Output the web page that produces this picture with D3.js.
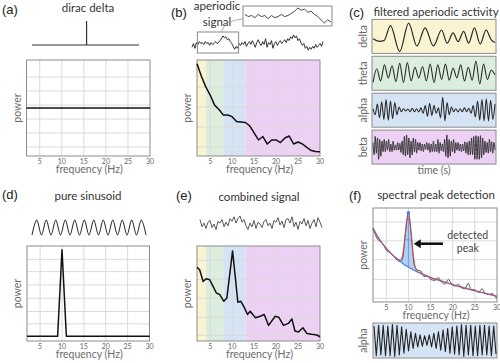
<!DOCTYPE html>
<html>
<head>
<meta charset="utf-8">
<script src="https://cdn.jsdelivr.net/npm/d3@7"></script>
<style>
  body { margin: 0; background: #fff; }
  svg { display: block; font-family: Lato, "Open Sans", sans-serif; }
  .frame { fill: none; stroke: #8c8c8c; stroke-width: 1; }
  .grid line { stroke: #dadada; stroke-width: 1; }
  .tick-label { font-size: 7px; fill: #666; }
  .axis-label { font-size: 10.5px; fill: #6a6a6a; }
  .title { font-size: 11.5px; fill: #333; }
  .panel { font-family: "Liberation Sans", Arial, sans-serif; font-size: 13px; fill: #222; }
</style>
</head>
<body>
<div id="chart"></div>
<script>
// ---- data ----
const freqTicks = [5, 10, 15, 20, 25, 30];
const bandEdges = [2, 4, 8, 13, 30];
const bandNames = ["delta", "theta", "alpha", "beta"];
const bandColors = ["#faf4d3", "#dbeedd", "#d5e4f4", "#edd1f4"];

// (a) dirac delta
const diracT = [0, 0.51, 0.51, 0.51, 1];
const diracV = [0, 0, 1, 0, 0];
const flatFreq = [2, 30];
const flatPower = [50, 50];

// (b) aperiodic signal (time trace) and its spectrum
const aperiodic = [
  -0.3, 0.1, -0.4, 0.2, 0.0, 0.3, 0.1, 0.2, 0.0, 0.3,
  0.1, 0.2, -0.1, 0.2, 0.0, 0.1, 0.3, 0.1, 0.2, 0.4,
  0.6, 0.9, 0.7, 0.8, 0.5, 0.6, 0.3, 0.1, -0.2, -0.5,
  -0.2, -0.4, 0.1, -0.1, 0.2, 0.0, 0.3, -0.2, 0.1, 0.3,
  0.0, 0.4, 0.1, -0.3, 0.2, 0.5, 0.1, -0.1, 0.3, 0.0,
  0.6, -0.3, 0.2, 0.0, 0.4, -0.4, 0.1, 0.3, -0.1, 0.2,
  0.4, 0.1, 0.3, 0.5, 0.2, 0.6, 0.4, 0.8, 0.6, 1.0,
  0.7, 0.9, 0.4, 0.6, 0.2, -0.1, 0.1, -0.4, -0.2, -0.6,
  -0.3, -0.5, -0.2, -0.4, 0.0, -0.3, -0.1, 0.1, -0.2, 0.3
];
const insetRange = [5, 31];
const specFreq = [2, 3, 4, 5, 6, 7, 8, 9, 10, 11, 12, 13, 14, 15, 16, 17, 18, 19, 20, 21, 22, 23, 24, 25, 26, 27, 28, 29, 30];
const aperiodicPower = [96, 83, 72, 63.5, 53, 48.4, 42.7, 42.7, 41, 36, 35.4, 34.9, 31.3, 24, 16.7, 20.3, 12.5, 16.7, 16.7, 14, 18.8, 20.8, 12.5, 14.6, 12.5, 8.9, 5.7, 4.7, 4.5];

// (c) filtered aperiodic activity (successive extrema)
const deltaT = [0, 0.05, 0.09, 0.143, 0.219, 0.292, 0.36, 0.427, 0.495, 0.562, 0.608, 0.657, 0.697, 0.743, 0.784, 0.832, 0.878, 0.927, 0.968, 1];
const deltaV = [-0.15, -0.32, -0.28, 0.71, -1.0, 0.87, -0.63, 0.56, -0.63, 0.42, -0.44, 0.23, -0.35, 0.33, -0.44, 0.56, -0.5, 0.42, -0.21, -0.4];
const theta = [-0.6, 0.3, -0.5, 0.55, -0.3, 0.5, -0.55, 0.65, -0.6, 0.7, -0.5, 0.4, -0.3, 0.45, -0.5, 0.6, -0.6, 0.55, -0.4, 0.6, -0.45, 0.35, -0.3, 0.55, -0.5, 0.4, -0.45, 0.8, -0.7, 0.6, -0.4, 0.2, -0.1];
const alpha = [0.1, -0.3, 0.4, -0.5, 0.55, -0.6, 0.7, -0.65, 0.6, -0.55, 0.5, -0.3, 0.2, -0.1, 0.1, -0.05, 0.08, -0.1, 0.12, -0.1, 0.1, -0.12, 0.15, -0.2, 0.3, -0.4, 0.45, -0.35, 0.3, -0.2, 0.15, -0.5, 0.85, -0.7, 0.5, -0.3, 0.2, -0.1, 0.1, -0.12, 0.1, -0.1, 0.15, -0.1, 0.12, -0.2, 0.3, -0.45, 0.6, -0.65, 0.7, -0.7, 0.75, -0.7, 0.65, -0.6, 0.4];
const beta = [
  0.3, -0.5, 0.7, -0.4, 0.6, -0.8, 0.5, -0.6, 0.4, -0.3, 0.5,
  -0.3, 0.4, -0.2, 0.5, -0.3, 0.2, -0.3, 0.4, -0.2, 0.15, -0.2, 0.3, -0.2, 0.25, -0.35, 0.4,
  -0.5, 0.7, -0.6, 0.8, -0.5, 0.6, -0.7, 0.4, -0.5, 0.6, -0.3, 0.5, -0.4, 0.3, -0.2, 0.3, -0.25, 0.2, -0.3,
  0.2, -0.15, 0.3, -0.2, 0.25, -0.35, 0.2, -0.3, 0.4, -0.3, 0.2, -0.3, 0.5, -0.4, 0.3, -0.25, 0.2, -0.3,
  0.5, -0.6, 0.8, -0.7, 0.5, -0.6, 0.4, -0.3, 0.5, -0.4, 0.3, -0.2, 0.3, -0.25, 0.2,
  -0.3, 0.2, -0.25, 0.35, -0.4, 0.3, -0.5, 0.4, -0.5, 0.6, -0.5,
  0.7, -0.8, 0.75, -0.8, 0.7, -0.8, 0.75, -0.7, 0.6, -0.5, 0.4, -0.35,
  0.3, -0.4, 0.5, -0.3, 0.35, -0.4, 0.3, -0.2
];

// (d) pure sinusoid
const sinusoid = [-1, 1, -1, 1, -1, 1, -1, 1, -1, 1, -1, 1, -1, 1, -1, 1, -1, 1, -1, 1, -1, 1, -1, 1, -1];
const sinePower = [5, 5, 5, 5, 5, 5, 5, 5, 96, 5, 5, 5, 5, 5, 5, 5, 5, 5, 5, 5, 5, 5, 5, 5, 5, 5, 5, 5, 5];

// (e) combined signal
const combined = [0.5, -0.3, 0.1, -0.5, 0.2, 0.4, -0.4, 0.0, -0.6, 0.3, 0.1, 0.5, -0.3, 0.2, -0.2, 0.6, 0.3, 0.8, 0.1, 0.6, 0.9, 0.2, 0.5, -0.2, -0.6, 0.1, -0.3, 0.4, -0.5, 0.2, 0.0, -0.4, 0.3, 0.5, -0.2, 0.1, -0.5, 0.4, 0.2, 0.7, -0.1, 0.3, -0.4, 0.5, 0.6, 0.1, 0.8, -0.3, 0.2, -0.6, 0.3, 0.0, 0.6, -0.2, 0.4, -0.5, 0.1, 0.5, -0.3, 0.7, 0.2, -0.4];
const combFreq = [2, 2.6, 3.4, 4.1, 4.9, 5.6, 6.4, 7.2, 8.1, 8.8, 10.1, 11.3, 12, 12.8, 13.5, 14.1, 15.3, 16.4, 17.3, 18.3, 19.8, 20.6, 21.7, 22.8, 23.6, 24.3, 25.1, 26.1, 27, 28.1, 29.3, 30];
const combPower = [77.7, 75, 62.7, 65.5, 64.5, 58, 50.5, 48.8, 41.8, 45.3, 94.8, 40.8, 41.8, 34.8, 27.9, 31.4, 24.4, 26.1, 27.9, 16.4, 26.1, 25.1, 16.4, 18.5, 23.3, 10.5, 9.4, 13.9, 8, 7, 6.3, 4.5];

// (f) spectral peak detection
const fFreq = [2, 3, 4, 4.5, 5, 6, 7, 8, 8.6, 9.3, 10, 10.7, 11.3, 12, 12.8, 13.5, 14.3, 15, 16, 16.7, 17.5, 18.3, 19, 19.8, 20.5, 21.3, 22, 22.8, 23.5, 24.2, 25, 25.8, 26.6, 27.4, 28.2, 29, 29.5, 30];
const fPower = [78, 67, 63, 60, 55, 52, 47, 43, 45, 72, 95, 68, 40, 34, 33, 27, 28, 24, 23, 26, 21, 19, 24, 19, 17, 19, 15, 14, 20, 13, 13, 10, 14, 9, 8, 9, 6, 4];
const fitFreq = [2, 3, 4, 5, 6, 7, 8, 8.5, 9, 9.5, 10, 10.5, 11, 11.5, 12, 13, 14, 15, 16, 17, 18, 19, 20, 21, 22, 23, 24, 25, 26, 27, 28, 29, 30];
const fitAperiodic = [78.7, 70, 63, 57, 52, 47.5, 44, 42, 40, 38.5, 37, 35.7, 34.5, 33.2, 32, 30, 28, 26, 24.5, 23, 21.5, 20, 18.5, 17, 15.8, 14.5, 13.2, 12, 10.8, 9.6, 8.4, 7.2, 6];
const fitPeak = [0, 0, 0, 0, 0, 0, 1, 5, 20, 44, 58, 44, 20, 5, 1, 0, 0, 0, 0, 0, 0, 0, 0, 0, 0, 0, 0, 0, 0, 0, 0, 0, 0];
const peakFreq = 10;
const alphaPeak = [0.9, -0.95, 0.95, -0.9, 0.95, -0.95, 0.9, -0.95, 1, -1, 0.95, -0.9, 0.85, -0.8, 0.7, -0.65, 0.55, -0.5, 0.45, -0.4, 0.35, -0.35, 0.3, -0.3, 0.35, -0.4, 0.45, -0.5, 0.55, -0.6, 0.65, -0.7, 0.75, -0.8, 0.85, -0.85, 0.9, -0.9, 1, -1, 0.95, -0.9, 0.95, -0.95, 0.9, -0.95, 0.95, -0.9, 0.95, -0.9, 0.9, -0.95, 0.9, -0.85];

// ---- drawing ----
const W = 500, H = 363;
const svg = d3.select("#chart").append("svg").attr("width", W).attr("height", H);

function text(g, x, y, s, cls, anchor = "middle") {
  return g.append("text").attr("class", cls).attr("x", x).attr("y", y)
    .attr("text-anchor", anchor).text(s);
}

function spectrumPanel(box, grid, withBands) {
  const x = d3.scaleLinear().domain([2, 30]).range([box.left, box.right]);
  const y = d3.scaleLinear().domain([0, 100]).range([box.bottom, box.top]);
  const g = svg.append("g");
  if (withBands) {
    g.selectAll("rect.band").data(bandColors).join("rect")
      .attr("x", (d, i) => x(bandEdges[i]))
      .attr("width", (d, i) => x(bandEdges[i + 1]) - x(bandEdges[i]))
      .attr("y", box.top).attr("height", box.bottom - box.top)
      .attr("fill", d => d);
  }
  const gg = g.append("g").attr("class", "grid");
  gg.selectAll("line.v").data(freqTicks.slice(0, -1)).join("line")
    .attr("x1", d => x(d)).attr("x2", d => x(d))
    .attr("y1", box.top).attr("y2", box.bottom);
  gg.selectAll("line.h").data(grid).join("line")
    .attr("x1", box.left).attr("x2", box.right)
    .attr("y1", d => y(d)).attr("y2", d => y(d));
  g.append("rect").attr("class", "frame")
    .attr("x", box.left).attr("y", box.top)
    .attr("width", box.right - box.left).attr("height", box.bottom - box.top);
  g.selectAll("text.tick").data(freqTicks).join("text")
    .attr("class", "tick-label").attr("x", d => x(d)).attr("y", box.bottom + 7.5)
    .attr("text-anchor", "middle").text(d => d);
  text(g, (box.left + box.right) / 2 + 1, box.bottom + 17, "frequency (Hz)", "axis-label");
  g.append("text").attr("class", "axis-label").attr("text-anchor", "middle")
    .attr("transform", `translate(${box.left - 6},${(box.top + box.bottom) / 2}) rotate(-90)`)
    .text("power");
  return { x, y, g };
}

function spectrumLine(p, freqs, powers, curve) {
  p.g.append("path")
    .datum(freqs.map((f, i) => [f, powers[i]]))
    .attr("fill", "none").attr("stroke", "#111").attr("stroke-width", 1.5)
    .attr("stroke-linejoin", "round")
    .attr("d", d3.line().x(d => p.x(d[0])).y(d => p.y(d[1])).curve(curve || d3.curveLinear));
}

function trace(values, box, domain, curve, opts = {}) {
  const x = d3.scaleLinear().domain([0, values.length - 1]).range([box.left, box.right]);
  const y = d3.scaleLinear().domain(domain).range([box.bottom, box.top]);
  svg.append("path").datum(values)
    .attr("fill", "none").attr("stroke", opts.color || "#2a2a2a")
    .attr("stroke-width", opts.width || 1).attr("stroke-linejoin", "round")
    .attr("d", d3.line().x((d, i) => x(i)).y(d => y(d)).curve(curve));
  return { x, y };
}

// ---------- (a) ----------
text(svg, 2, 14, "(a)", "panel", "start");
text(svg, 88, 12, "dirac delta", "title");
{
  const x = d3.scaleLinear().domain([0, 1]).range([32, 139]);
  const y = d3.scaleLinear().domain([0, 1]).range([45, 21]);
  svg.append("path").datum(diracT.map((t, i) => [t, diracV[i]]))
    .attr("fill", "none").attr("stroke", "#333").attr("stroke-width", 1.2)
    .attr("d", d3.line().x(d => x(d[0])).y(d => y(d[1])));
  const pa = spectrumPanel({ left: 26.5, right: 150, top: 60, bottom: 156 }, [9.4, 24, 38.5, 53, 67.7, 82.3], false);
  spectrumLine(pa, flatFreq, flatPower);
}

// ---------- (b) ----------
text(svg, 171, 17, "(b)", "panel", "start");
text(svg, 217, 10, "aperiodic", "title");
text(svg, 217, 26, "signal", "title");
{
  const t = trace(aperiodic, { left: 192, right: 323, top: 33, bottom: 54 }, [-1, 1.2], d3.curveLinear, { width: 1, color: "#333" });
  const sx0 = t.x(insetRange[0]) - 2, sx1 = t.x(insetRange[1]) + 1;
  svg.append("rect").attr("x", sx0).attr("y", 32).attr("width", sx1 - sx0).attr("height", 21)
    .attr("fill", "none").attr("stroke", "#888").attr("stroke-width", 1);
  const inset = { left: 243, right: 332, top: 6, bottom: 26 };
  svg.append("rect").attr("x", inset.left).attr("y", inset.top)
    .attr("width", inset.right - inset.left).attr("height", inset.bottom - inset.top)
    .attr("fill", "none").attr("stroke", "#888").attr("stroke-width", 1);
  const seg = aperiodic.slice(insetRange[0], insetRange[1] + 1);
  trace(seg, { left: inset.left + 2, right: inset.right - 1, top: 8, bottom: 23 }, d3.extent(seg), d3.curveLinear, { width: 0.9, color: "#333" });
  const cx = t.x(20);
  svg.append("path").attr("d", `M${cx},32 Q${cx + 3},20 ${inset.left},19`)
    .attr("fill", "none").attr("stroke", "#999").attr("stroke-width", 0.8);

  const pb = spectrumPanel({ left: 197, right: 320, top: 60, bottom: 156 }, [9.4, 30.2, 51, 71.9], true);
  spectrumLine(pb, specFreq, aperiodicPower);
}

// ---------- (c) ----------
text(svg, 349, 17, "(c)", "panel", "start");
text(svg, 436, 16, "filtered aperiodic activity", "title");
{
  const boxL = 372, boxR = 496, h = 34, pitch = 36.9, top0 = 19.4;
  const waves = [null, theta, alpha, beta];
  bandNames.forEach((name, i) => {
    const top = top0 + i * pitch, bottom = top + h;
    svg.append("rect").attr("x", boxL).attr("y", top).attr("width", boxR - boxL).attr("height", h)
      .attr("fill", bandColors[i]).attr("stroke", "#8c8c8c").attr("stroke-width", 1);
    svg.append("text").attr("class", "axis-label").attr("text-anchor", "middle")
      .attr("transform", `translate(${boxL - 5},${top + h / 2}) rotate(-90)`).text(name);
    const wb = { left: boxL + 1, right: boxR - 1, top: top + 1, bottom: bottom - 1 };
    if (i === 0) {
      const x = d3.scaleLinear().domain([0, 1]).range([wb.left, wb.right]);
      const y = d3.scaleLinear().domain([-1.05, 1.05]).range([wb.bottom, wb.top]);
      svg.append("path").datum(deltaT.map((tt, k) => [tt, deltaV[k]]))
        .attr("fill", "none").attr("stroke", "#2a2a2a").attr("stroke-width", 1.2)
        .attr("d", d3.line().x(d => x(d[0])).y(d => y(d[1])).curve(d3.curveMonotoneX));
    } else {
      trace(waves[i], wb, [-1.05, 1.05], d3.curveMonotoneX, { width: i === 3 ? 0.9 : 1.1 });
    }
  });
  text(svg, 434, 174, "time (s)", "axis-label");
}

// ---------- (d) ----------
text(svg, 2, 199, "(d)", "panel", "start");
text(svg, 88, 200, "pure sinusoid", "title");
{
  trace(sinusoid, { left: 32, right: 146, top: 220, bottom: 235 }, [-1, 1], d3.curveMonotoneX, { width: 1.1, color: "#333" });
  const pd = spectrumPanel({ left: 27, right: 149.5, top: 246, bottom: 341 }, [18, 31, 45, 59, 73, 86], false);
  spectrumLine(pd, specFreq, sinePower);
}

// ---------- (e) ----------
text(svg, 176, 200, "(e)", "panel", "start");
text(svg, 259, 201, "combined signal", "title");
{
  trace(combined, { left: 200, right: 322, top: 215, bottom: 233 }, [-1, 1], d3.curveLinear, { width: 0.9, color: "#444" });
  const pe = spectrumPanel({ left: 197, right: 320, top: 246, bottom: 341 }, [6, 25, 45, 65, 85], true);
  spectrumLine(pe, combFreq, combPower);
}

// ---------- (f) ----------
text(svg, 349, 200, "(f)", "panel", "start");
text(svg, 436, 199, "spectral peak detection", "title");
{
  const pf = spectrumPanel({ left: 373, right: 497, top: 208, bottom: 302 }, [4, 24, 45, 65, 85], false);
  const fit = fitFreq.map((f, i) => [f, fitAperiodic[i], fitAperiodic[i] + fitPeak[i]]);
  const peakPart = fit.filter(d => d[0] >= 8 && d[0] <= 12);
  pf.g.append("path").datum(peakPart)
    .attr("fill", "#9fc6ef").attr("fill-opacity", 0.8)
    .attr("d", d3.area().x(d => pf.x(d[0])).y0(d => pf.y(d[1])).y1(d => pf.y(d[2])).curve(d3.curveMonotoneX));
  pf.g.append("path").datum(fFreq.map((f, i) => [f, fPower[i]]))
    .attr("fill", "none").attr("stroke", "#555").attr("stroke-width", 1)
    .attr("d", d3.line().x(d => pf.x(d[0])).y(d => pf.y(d[1])).curve(d3.curveMonotoneX));
  pf.g.append("path").datum(fit)
    .attr("fill", "none").attr("stroke", "#4f7fe0").attr("stroke-width", 1.3)
    .attr("d", d3.line().x(d => pf.x(d[0])).y(d => pf.y(d[1])).curve(d3.curveMonotoneX));
  pf.g.append("path").datum(fit)
    .attr("fill", "none").attr("stroke", "#e0413c").attr("stroke-width", 1.1).attr("stroke-opacity", 0.7)
    .attr("d", d3.line().x(d => pf.x(d[0])).y(d => pf.y(d[2])).curve(d3.curveMonotoneX));
  const top = fit.find(d => d[0] === peakFreq);
  const half = top[1] + (top[2] - top[1]) / 2;
  pf.g.append("line").attr("x1", pf.x(peakFreq)).attr("x2", pf.x(peakFreq))
    .attr("y1", pf.y(top[2])).attr("y2", pf.y(top[1])).attr("stroke", "#6a9be6").attr("stroke-width", 1);
  pf.g.append("line").attr("x1", pf.x(9.3)).attr("x2", pf.x(10.7))
    .attr("y1", pf.y(half)).attr("y2", pf.y(half)).attr("stroke", "#6a9be6").attr("stroke-width", 1);
  pf.g.append("circle").attr("cx", pf.x(peakFreq)).attr("cy", pf.y(top[2])).attr("r", 1.8).attr("fill", "#4f7fe0");

  // arrow + label
  const ay = pf.y(62);
  pf.g.append("line").attr("x1", pf.x(17.8)).attr("x2", pf.x(12.6)).attr("y1", ay).attr("y2", ay)
    .attr("stroke", "#111").attr("stroke-width", 2.6);
  const tip = pf.x(11.2);
  pf.g.append("path").attr("d", `M${tip},${ay} L${tip + 7},${ay - 4.5} L${tip + 7},${ay + 4.5} Z`).attr("fill", "#111");
  text(pf.g, pf.x(23.4), pf.y(67), "detected", "axis-label").style("fill", "#444");
  text(pf.g, pf.x(23.4), pf.y(53), "peak", "axis-label").style("fill", "#444");

  // alpha band trace
  const ab = { left: 373, right: 497, top: 323, bottom: 358 };
  svg.append("rect").attr("x", ab.left).attr("y", ab.top).attr("width", ab.right - ab.left).attr("height", ab.bottom - ab.top)
    .attr("fill", bandColors[2]).attr("stroke", "#8c8c8c").attr("stroke-width", 1);
  svg.append("text").attr("class", "axis-label").attr("text-anchor", "middle")
    .attr("transform", `translate(${ab.left - 6},${(ab.top + ab.bottom) / 2}) rotate(-90)`).text("alpha");
  trace(alphaPeak, { left: ab.left + 1, right: ab.right - 1, top: ab.top + 1.5, bottom: ab.bottom - 1.5 }, [-1, 1], d3.curveLinear, { width: 1.1, color: "#222" });
}
</script>
</body>
</html>
